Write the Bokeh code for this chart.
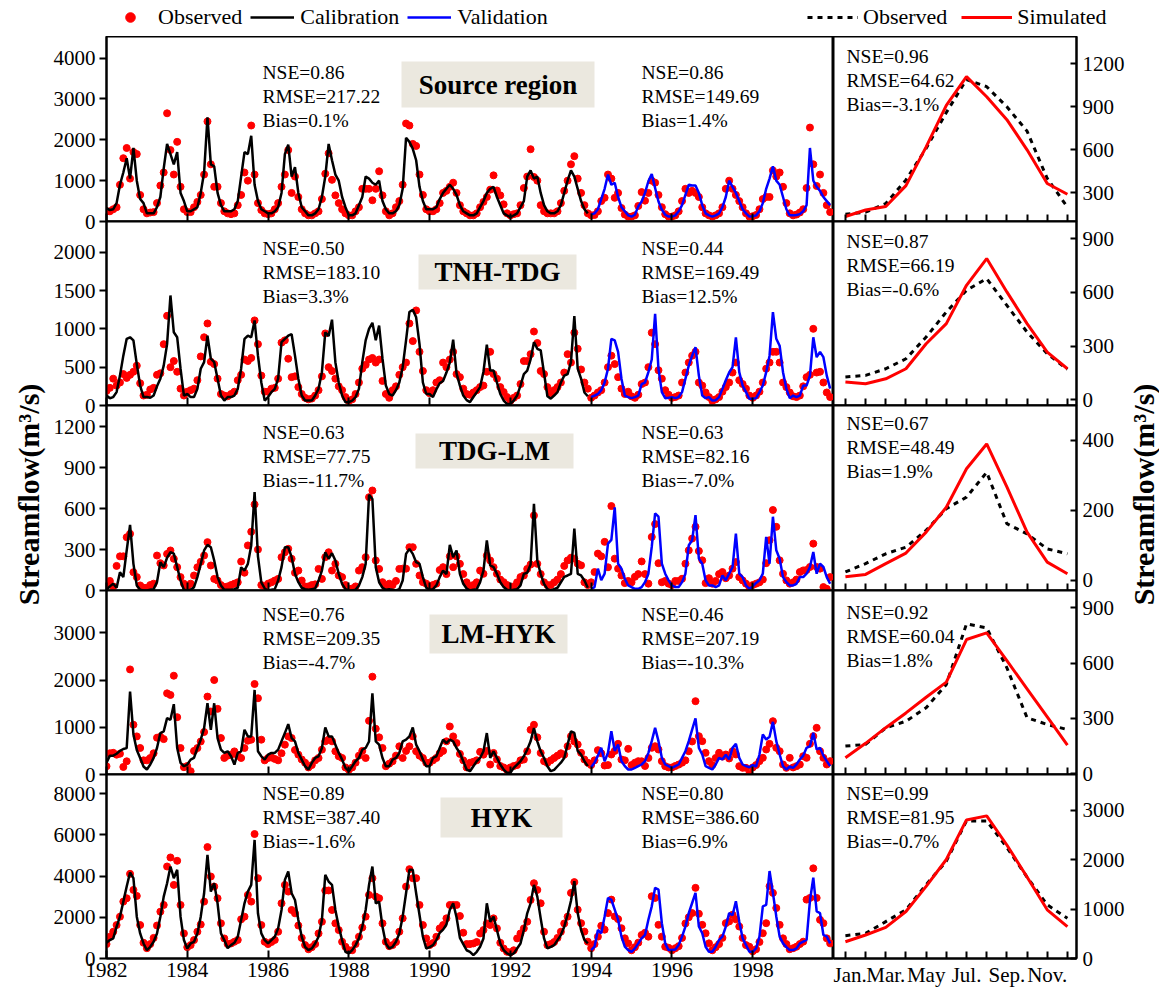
import numpy as np
from bokeh.plotting import figure
from bokeh.layouts import column, row
from bokeh.models import Range1d, FixedTicker, Label, BoxAnnotation, Legend, LegendItem
from bokeh.embed import file_html
from bokeh.resources import INLINE

FONT = "Liberation Serif"

# Monthly streamflow (m3/s), Jan 1982 - Dec 1999.
# First 144 months: calibration period, last 72 months: validation period.
src_sim = [
    330, 280, 300, 450, 900, 1200, 1550, 1050, 1800, 1000, 550, 450,   # 1982
    200, 200, 200, 350, 600, 1300, 1900, 1650, 1400, 1700, 700, 500,   # 1983
    250, 250, 300, 350, 700, 1200, 2550, 1400, 1350, 700, 400, 250,    # 1984
    250, 250, 300, 500, 1100, 1700, 1650, 2100, 900, 500, 300, 250,    # 1985
    200, 200, 250, 350, 700, 1650, 1880, 1100, 1330, 700, 350, 250,    # 1986
    150, 150, 200, 300, 600, 1100, 1900, 1500, 1150, 1000, 600, 350,   # 1987
    150, 150, 200, 400, 600, 1100, 1050, 950, 900, 1000, 500, 300,     # 1988
    200, 200, 250, 400, 800, 2050, 1950, 1780, 1500, 850, 500, 300,    # 1989
    300, 300, 350, 550, 700, 800, 900, 800, 650, 400, 250, 200,        # 1990
    150, 150, 200, 350, 500, 700, 800, 850, 600, 400, 200, 150,        # 1991
    110, 150, 200, 350, 500, 1100, 1250, 1050, 1100, 700, 400, 250,    # 1992
    200, 200, 250, 400, 700, 1000, 1250, 1100, 800, 500, 300, 200,     # 1993
    170, 200, 300, 550, 800, 1150, 900, 950, 600, 350, 250, 150,       # 1994
    120, 165, 370, 490, 700, 985, 1165, 820, 490, 290, 165, 120,       # 1995
    120, 150, 250, 400, 650, 900, 880, 880, 700, 400, 200, 150,        # 1996
    120, 150, 200, 350, 600, 1000, 850, 700, 500, 300, 200, 120,       # 1997
    130, 150, 250, 450, 800, 1050, 1350, 1000, 900, 600, 300, 150,     # 1998
    150, 160, 180, 250, 400, 1800, 1000, 850, 750, 600, 500, 400,      # 1999
]
src_obs = [
    250, 250, 300, 350, 900, 1550, 1800, 1050, 1700, 1650, 650, 300,
    200, 220, 230, 450, 880, 1200, 2650, 1750, 1150, 1950, 850, 300,
    230, 230, 350, 480, 650, 1150, 2450, 1400, 850, 850, 450, 250,
    200, 180, 200, 400, 650, 1200, 1000, 2350, 1150, 450, 280, 200,
    180, 200, 300, 450, 850, 1150, 1750, 700, 1100, 600, 300, 200,
    150, 150, 200, 250, 550, 1170, 1670, 1020, 640, 450, 300, 200,
    150, 150, 250, 350, 800, 800, 800, 520, 800, 1230, 640, 250,
    150, 200, 350, 500, 900, 2400, 2350, 1900, 1850, 1150, 650, 300,
    250, 250, 300, 450, 700, 750, 850, 950, 700, 400, 250, 200,
    150, 150, 200, 350, 480, 600, 780, 1130, 760, 640, 420, 200,
    150, 180, 200, 400, 820, 1100, 1770, 1090, 1000, 400, 250, 200,
    200, 200, 250, 450, 750, 1000, 1400, 1600, 1050, 700, 400, 200,
    150, 160, 250, 500, 580, 1150, 1050, 580, 700, 330, 170, 120,
    120, 150, 380, 720, 510, 700, 1000, 950, 650, 350, 180, 120,
    120, 150, 250, 500, 800, 700, 750, 700, 600, 350, 200, 150,
    120, 150, 200, 350, 800, 1000, 800, 650, 500, 350, 200, 120,
    130, 160, 300, 550, 600, 600, 1250, 1100, 1200, 850, 450, 200,
    150, 170, 220, 300, 820, 2300, 1400, 870, 1150, 700, 400, 230,
]

tnh_sim = [
    130, 95, 110, 175, 390, 650, 870, 890, 850, 540, 260, 110,
    110, 100, 130, 250, 350, 520, 800, 1435, 955, 890, 480, 130,
    150, 110, 110, 217, 480, 565, 910, 610, 565, 350, 130, 65,
    110, 110, 130, 217, 480, 870, 910, 890, 1110, 650, 300, 65,
    110, 175, 217, 350, 826, 870, 910, 930, 650, 350, 130, 65,
    65, 65, 130, 217, 435, 955, 905, 1120, 565, 300, 130, 43,
    45, 65, 110, 217, 565, 850, 1000, 1078, 850, 1043, 610, 260,
    150, 130, 200, 300, 500, 850, 1220, 1250, 1150, 800, 300, 150,
    150, 110, 210, 290, 320, 430, 560, 860, 420, 260, 130, 70,
    45, 110, 175, 240, 440, 795, 455, 455, 300, 150, 65, 20,
    20, 65, 130, 260, 410, 455, 600, 826, 740, 720, 420, 120,
    90, 130, 175, 300, 390, 410, 565, 1165, 480, 350, 170, 120,
    110, 130, 150, 200, 300, 480, 870, 850, 700, 350, 130, 110,
    96, 110, 130, 280, 300, 435, 600, 1196, 478, 174, 96, 100,
    109, 96, 110, 174, 348, 520, 650, 760, 390, 130, 96, 110,
    65, 70, 109, 217, 330, 430, 500, 890, 435, 260, 174, 87,
    87, 96, 174, 261, 435, 650, 1217, 870, 780, 435, 217, 96,
    130, 110, 130, 260, 260, 390, 890, 630, 700, 630, 390, 220,
]
tnh_obs = [
    190, 230, 350, 260, 300, 410, 360, 400, 440, 520, 290, 130,
    140, 210, 230, 400, 420, 800, 1170, 500, 580, 440, 220, 130,
    180, 200, 220, 330, 640, 890, 1070, 570, 540, 350, 150, 130,
    120, 150, 180, 330, 400, 600, 580, 620, 1110, 800, 390, 180,
    180, 220, 230, 350, 820, 850, 610, 370, 380, 240, 150, 100,
    80, 90, 130, 200, 380, 940, 500, 450, 350, 250, 200, 110,
    60, 80, 150, 300, 480, 530, 600, 620, 560, 600, 320, 150,
    100, 200, 250, 400, 500, 560, 1070, 840, 1240, 700, 450, 200,
    160, 200, 300, 330, 560, 500, 600, 700, 410, 370, 220, 150,
    140, 170, 200, 240, 260, 440, 700, 410, 350, 240, 175, 110,
    60, 100, 130, 280, 580, 580, 670, 965, 815, 450, 410, 240,
    160, 200, 240, 300, 430, 670, 560, 950, 740, 470, 300, 220,
    100, 130, 170, 200, 300, 500, 650, 540, 370, 220, 150, 180,
    120, 100, 140, 280, 300, 500, 950, 800, 460, 350, 200, 140,
    100, 110, 130, 300, 430, 560, 650, 700, 300, 260, 170, 110,
    60, 80, 110, 180, 240, 300, 430, 560, 330, 280, 220, 130,
    100, 130, 180, 300, 480, 560, 700, 700, 560, 300, 240, 170,
    120, 110, 130, 250, 370, 400, 1000, 430, 440, 300, 170, 110,
]

tdg_sim = [
    5, 30, 50, 20, 134, 98, 293, 480, 195, 37, 5, 0,
    0, 5, 10, 61, 207, 171, 240, 280, 270, 171, 73, 5,
    0, 5, 24, 98, 195, 293, 334, 317, 220, 98, 37, 5,
    5, 5, 10, 20, 170, 146, 195, 330, 720, 250, 60, 15,
    0, 5, 10, 73, 171, 317, 317, 244, 122, 61, 20, 10,
    5, 10, 15, 73, 146, 280, 232, 273, 220, 122, 49, 10,
    0, 0, 5, 37, 98, 195, 700, 670, 171, 60, 20, 5,
    10, 5, 0, 10, 73, 268, 305, 268, 207, 195, 98, 20,
    5, 10, 37, 98, 146, 120, 334, 244, 293, 122, 49, 15,
    0, 5, 10, 61, 146, 366, 183, 171, 122, 61, 25, 5,
    0, 5, 10, 37, 122, 130, 190, 634, 220, 122, 49, 10,
    0, 10, 20, 60, 100, 110, 122, 454, 122, 110, 73, 20,
    12, 25, 160, 75, 123, 343, 370, 608, 196, 160, 86, 37,
    25, 12, 12, 25, 61, 123, 319, 564, 540, 196, 123, 74,
    37, 25, 25, 61, 123, 331, 368, 552, 233, 196, 74, 37,
    37, 25, 37, 110, 75, 123, 170, 417, 123, 98, 37, 12,
    30, 55, 75, 123, 392, 196, 540, 294, 233, 98, 61, 37,
    37, 49, 98, 98, 123, 172, 282, 123, 196, 172, 98, 49,
]
tdg_obs = [
    40, 70, 30, 180, 250, 250, 390, 415, 134, 98, 37, 20,
    20, 40, 50, 256, 200, 183, 268, 293, 232, 171, 98, 50,
    30, 50, 110, 170, 210, 256, 354, 183, 85, 73, 40, 25,
    30, 40, 50, 60, 212, 130, 330, 430, 630, 300, 40, 30,
    50, 60, 73, 85, 244, 280, 305, 232, 130, 146, 73, 30,
    30, 40, 45, 158, 85, 244, 280, 146, 195, 110, 98, 40,
    10, 15, 30, 146, 171, 244, 683, 732, 220, 158, 61, 20,
    50, 40, 70, 158, 160, 160, 317, 317, 195, 110, 61, 50,
    30, 40, 50, 150, 171, 120, 250, 171, 250, 195, 120, 60,
    30, 40, 60, 146, 122, 256, 220, 171, 122, 80, 61, 40,
    20, 30, 60, 98, 110, 158, 190, 549, 195, 120, 60, 40,
    40, 60, 80, 120, 180, 220, 240, 233, 196, 184, 60, 40,
    60, 135, 270, 250, 356, 170, 618, 233, 160, 110, 54, 70,
    60, 100, 120, 213, 120, 50, 392, 486, 200, 60, 70, 50,
    40, 70, 70, 86, 196, 294, 380, 466, 289, 221, 54, 90,
    50, 70, 120, 135, 90, 110, 160, 208, 98, 74, 50, 25,
    40, 50, 60, 80, 200, 368, 589, 466, 221, 123, 74, 50,
    60, 80, 135, 147, 150, 172, 343, 172, 160, 25, 12, 98,
]

lm_sim = [
    250, 400, 400, 440, 500, 540, 560, 1756, 850, 520, 350, 170,
    105, 211, 351, 562, 878, 913, 1194, 1159, 1490, 562, 246, 175,
    211, 316, 351, 562, 738, 984, 1510, 948, 1510, 773, 527, 457,
    492, 386, 211, 457, 492, 948, 808, 808, 1792, 492, 386, 316,
    421, 457, 457, 527, 703, 878, 1068, 773, 703, 457, 316, 175,
    105, 246, 351, 386, 562, 998, 808, 808, 632, 457, 316, 140,
    70, 175, 281, 351, 527, 562, 700, 1721, 703, 632, 351, 175,
    175, 316, 351, 457, 703, 738, 808, 998, 632, 492, 316, 175,
    175, 351, 386, 562, 738, 667, 738, 703, 562, 457, 281, 105,
    70, 175, 281, 351, 492, 878, 351, 492, 351, 211, 105, 35,
    35, 140, 211, 281, 386, 527, 703, 984, 703, 492, 351, 175,
    70, 100, 175, 250, 351, 632, 913, 880, 500, 420, 280, 177,
    155, 250, 400, 565, 280, 460, 918, 500, 636, 283, 177, 106,
    106, 141, 177, 212, 283, 459, 707, 989, 707, 353, 212, 177,
    141, 177, 212, 353, 494, 707, 950, 1190, 565, 424, 177, 141,
    106, 212, 353, 320, 420, 320, 565, 650, 353, 212, 177, 155,
    200, 170, 424, 848, 742, 800, 1116, 707, 424, 177, 106, 170,
    141, 212, 318, 400, 565, 600, 883, 530, 565, 400, 283, 177,
]
lm_obs = [
    175, 450, 460, 420, 440, 160, 280, 2227, 1054, 808, 562, 300,
    300, 350, 450, 780, 800, 750, 1720, 1686, 2094, 1215, 562, 155,
    180, 70, 500, 560, 700, 900, 1651, 1335, 2002, 1391, 773, 351,
    400, 420, 490, 400, 350, 562, 717, 738, 1918, 1616, 738, 300,
    350, 360, 330, 300, 450, 632, 808, 773, 520, 420, 320, 250,
    150, 200, 300, 350, 527, 703, 738, 703, 492, 386, 351, 150,
    100, 150, 250, 400, 500, 350, 1138, 2073, 970, 787, 562, 175,
    230, 280, 400, 597, 350, 500, 597, 808, 492, 400, 350, 250,
    250, 300, 350, 450, 500, 703, 1019, 808, 667, 436, 300, 150,
    250, 270, 300, 480, 420, 500, 211, 457, 320, 180, 150, 100,
    150, 180, 200, 300, 316, 492, 948, 1054, 787, 457, 281, 246,
    300, 350, 400, 450, 420, 600, 812, 700, 636, 459, 318, 250,
    200, 300, 516, 450, 190, 200, 424, 500, 650, 318, 300, 544,
    200, 250, 283, 280, 180, 350, 565, 600, 530, 283, 177, 150,
    150, 180, 210, 250, 300, 494, 700, 1554, 812, 707, 459, 283,
    200, 350, 459, 380, 424, 340, 494, 424, 177, 141, 141, 14,
    150, 200, 283, 353, 530, 650, 1130, 565, 494, 212, 141, 353,
    150, 177, 212, 388, 353, 650, 812, 989, 494, 353, 212, 283,
]

hyk_sim = [
    763, 893, 974, 1542, 2029, 2759, 3489, 4171, 3895, 2029, 1217, 730,
    406, 568, 811, 1217, 2029, 3003, 3652, 4463, 3895, 4301, 2029, 893,
    487, 730, 811, 1217, 2029, 3165, 5031, 3246, 3652, 2678, 1217, 893,
    500, 650, 760, 1055, 1866, 2678, 3246, 3571, 5750, 2191, 1217, 893,
    730, 893, 1055, 1461, 2353, 3814, 4220, 3165, 2840, 1866, 1055, 568,
    406, 487, 730, 1055, 1866, 4058, 3733, 3571, 2353, 1542, 893, 325,
    243, 406, 649, 974, 1542, 2353, 3571, 4463, 2678, 2759, 1542, 730,
    487, 568, 811, 1217, 2029, 3165, 4301, 4301, 3165, 2110, 1055, 487,
    550, 650, 893, 1250, 1400, 1650, 2353, 2678, 2000, 1000, 700, 400,
    325, 162, 325, 568, 974, 2678, 1785, 2029, 1380, 730, 406, 243,
    162, 243, 487, 730, 1380, 2191, 2678, 3571, 3003, 1948, 974, 487,
    560, 650, 893, 1136, 1542, 2122, 2800, 3754, 2203, 1387, 898, 734,
    408, 570, 1387, 1224, 2040, 2938, 2850, 2366, 1877, 1061, 571, 408,
    326, 490, 734, 979, 1142, 1877, 2530, 3427, 3346, 1714, 734, 408,
    408, 440, 653, 1061, 1550, 2203, 2693, 3182, 1550, 1224, 571, 326,
    326, 571, 898, 1061, 1550, 2203, 2100, 2774, 1800, 979, 653, 326,
    326, 490, 1061, 2530, 2600, 4243, 3182, 2040, 1061, 734, 550, 408,
    408, 490, 734, 816, 898, 2800, 3917, 2285, 2203, 1142, 1061, 734,
]
hyk_obs = [
    698, 1055, 1298, 1623, 2029, 2759, 2921, 4106, 3327, 3035, 1623, 763,
    500, 700, 1000, 1600, 2272, 2597, 4463, 4901, 3571, 4739, 2597, 1217,
    550, 650, 893, 1298, 1650, 2759, 5404, 3976, 3489, 2921, 1704, 974,
    700, 730, 811, 900, 1900, 2029, 3084, 2759, 6038, 3895, 1623, 811,
    700, 800, 900, 1300, 2678, 3571, 3246, 2353, 2191, 1600, 1000, 650,
    450, 550, 700, 1217, 1785, 3300, 3300, 2353, 1704, 1380, 811, 568,
    400, 400, 700, 1055, 1500, 2029, 3084, 3895, 3003, 2921, 1704, 811,
    600, 650, 800, 1298, 1948, 3489, 4333, 3895, 3895, 2597, 1623, 974,
    650, 750, 1050, 1461, 1623, 1948, 2597, 2597, 2597, 2061, 1250, 700,
    700, 730, 800, 1217, 1380, 1700, 1623, 1948, 1461, 763, 487, 325,
    300, 400, 974, 1217, 1461, 1785, 2840, 3652, 3327, 2678, 1298, 649,
    700, 800, 1000, 1300, 1700, 2029, 3182, 3705, 2366, 1714, 1306, 816,
    500, 700, 1061, 1583, 1400, 2203, 2856, 2040, 1910, 1469, 979, 734,
    400, 550, 767, 1142, 1250, 1061, 3019, 2938, 1632, 1061, 571, 520,
    400, 500, 600, 1000, 1700, 2000, 2203, 3427, 2170, 1632, 1224, 734,
    400, 550, 700, 1000, 1714, 1800, 2122, 1900, 1550, 1000, 650, 570,
    350, 450, 800, 1224, 1714, 3509, 3182, 2448, 1632, 979, 700, 450,
    500, 570, 700, 816, 2856, 2938, 4374, 2938, 1877, 1714, 979, 734,
]

# Mean monthly hydrographs (Jan..Dec)
months = list(range(1, 13))
month_labels = ["Jan.", "", "Mar.", "", "May", "", "Jul.", "", "Sep.", "", "Nov.", ""]
src_mon_obs = [150, 165, 225, 390, 610, 860, 1090, 1040, 900, 730, 400, 200]
src_mon_sim = [135, 180, 205, 350, 620, 910, 1110, 970, 810, 600, 365, 290]
tnh_mon_obs = [127, 136, 173, 229, 350, 490, 611, 676, 527, 378, 257, 170]
tnh_mon_sim = [99, 89, 117, 173, 313, 425, 639, 788, 602, 425, 266, 173]
tdg_mon_obs = [24, 48, 76, 95, 143, 205, 238, 309, 162, 133, 90, 76]
tdg_mon_sim = [10, 17, 48, 78, 138, 209, 319, 390, 267, 138, 52, 19]
lm_mon_obs = [150, 159, 249, 285, 358, 484, 813, 791, 575, 304, 267, 240]
lm_mon_sim = [87, 165, 250, 330, 415, 497, 728, 764, 613, 461, 309, 155]
hyk_mon_obs = [462, 510, 748, 986, 1496, 1972, 2788, 2788, 2250, 1650, 1088, 816]
hyk_mon_sim = [340, 476, 632, 952, 1462, 2006, 2808, 2890, 2300, 1650, 986, 646]

year_ticks = list(range(1982, 2000, 2))

N_CAL = 144
t = 1982 + np.arange(len(src_sim)) / 12.0

panels = [
    dict(name="Source region", sim=src_sim, obs=src_obs, msim=src_mon_sim, mobs=src_mon_obs,
         cal=["NSE=0.86", "RMSE=217.22", "Bias=0.1%"], val=["NSE=0.86", "RMSE=149.69", "Bias=1.4%"],
         mon=["NSE=0.96", "RMSE=64.62", "Bias=-3.1%"],
         ylim=(0, 4530), yt=[0, 1000, 2000, 3000, 4000], rlim=(100, 1390), rt=[300, 600, 900, 1200],
         box=(401, 594, 61, 107)),
    dict(name="TNH-TDG", sim=tnh_sim, obs=tnh_obs, msim=tnh_mon_sim, mobs=tnh_mon_obs,
         cal=["NSE=0.50", "RMSE=183.10", "Bias=3.3%"], val=["NSE=0.44", "RMSE=169.49", "Bias=12.5%"],
         mon=["NSE=0.87", "RMSE=66.19", "Bias=-0.6%"],
         ylim=(0, 2400), yt=[0, 500, 1000, 1500, 2000], rlim=(-32, 995), rt=[0, 300, 600, 900],
         box=(418, 576, 254, 289)),
    dict(name="TDG-LM", sim=tdg_sim, obs=tdg_obs, msim=tdg_mon_sim, mobs=tdg_mon_obs,
         cal=["NSE=0.63", "RMSE=77.75", "Bias=-11.7%"], val=["NSE=0.63", "RMSE=82.16", "Bias=-7.0%"],
         mon=["NSE=0.67", "RMSE=48.49", "Bias=1.9%"],
         ylim=(0, 1354), yt=[0, 300, 600, 900, 1200], rlim=(-29, 500), rt=[0, 200, 400],
         box=(415, 573, 433, 468)),
    dict(name="LM-HYK", sim=lm_sim, obs=lm_obs, msim=lm_mon_sim, mobs=lm_mon_obs,
         cal=["NSE=0.76", "RMSE=209.35", "Bias=-4.7%"], val=["NSE=0.46", "RMSE=207.19", "Bias=-10.3%"],
         mon=["NSE=0.92", "RMSE=60.04", "Bias=1.8%"],
         ylim=(0, 3900), yt=[0, 1000, 2000, 3000], rlim=(-4, 994), rt=[0, 300, 600, 900],
         box=(429, 567, 614, 653)),
    dict(name="HYK", sim=hyk_sim, obs=hyk_obs, msim=hyk_mon_sim, mobs=hyk_mon_obs,
         cal=["NSE=0.89", "RMSE=387.40", "Bias=-1.6%"], val=["NSE=0.80", "RMSE=386.60", "Bias=6.9%"],
         mon=["NSE=0.99", "RMSE=81.95", "Bias=-0.7%"],
         ylim=(0, 8925), yt=[0, 2000, 4000, 6000, 8000], rlim=(0, 3728), rt=[0, 1000, 2000, 3000],
         box=(440, 562, 797, 837)),
]

# page geometry (pixels)
PAGE_W, PAGE_H = 1159, 988
LEG_H = 36
YL_W = 50                 # left margin of the panel block
YL_STRIP = 100            # strip under the left margin: axis title and shared-edge zeros
YR_X = 1127               # start of the strip holding the right axis title
LX0, LW = 106, 727
RX0, RW = 833, 243
ROW_TOP = [36, 221, 405, 590, 774]
ROW_H = [185, 184, 185, 184, 184]
BOTTOM = 30
OVERLAP = 18              # neighbouring rows share this strip
XR_L = (1982, 2000)
XR_R = (0.41, 12.45)
STAT_Y = [72, 248, 432, 614, 793]
MON_Y = [56, 241, 423, 612, 793]
LINE_GAP = 24
TICK_FS = "21px"
STAT_FS = "19.5px"
YTICK_OUT, YTICK_STANDOFF = 7, 4
YLABEL = "Streamflow(m\u00b3/s)"
YLABEL_CY = 494


def lx(px):
    return XR_L[0] + (px - LX0) / LW * (XR_L[1] - XR_L[0])


def rx(px):
    return XR_R[0] + (px - RX0) / RW * (XR_R[1] - XR_R[0])


def yv(i, py, lim):
    lo, hi = lim
    return hi - (py - ROW_TOP[i]) / ROW_H[i] * (hi - lo)


def clear_fill(model):
    for prop in ("background_fill_alpha", "border_fill_alpha"):
        if prop in model.properties():
            setattr(model, prop, 0)


def base_style(p):
    p.xgrid.visible = False
    p.ygrid.visible = False
    p.outline_line_color = "black"
    p.outline_line_width = 2
    p.background_fill_color = "white"
    p.border_fill_color = None
    p.border_fill_alpha = 0
    for ax in p.axis:
        clear_fill(ax)
        ax.axis_line_width = 2
        ax.axis_line_color = "black"
        ax.major_tick_line_width = 2
        ax.major_tick_line_color = "black"
        ax.minor_tick_line_color = None
        ax.major_label_text_font = FONT
        ax.major_label_text_font_size = TICK_FS
        ax.major_label_text_color = "black"


def add_text(p, x, y, text, **kw):
    opts = dict(text_font=FONT, text_font_size=STAT_FS, text_color="black",
                text_align="left", text_baseline="middle")
    opts.update(kw)
    p.add_layout(Label(x=x, y=y, text=text, **opts))


def add_stats(p, i, x, y_px, lines, lim):
    for k, s in enumerate(lines):
        add_text(p, x, yv(i, y_px + k * LINE_GAP, lim), s)


def borders(i):
    last = i == len(panels) - 1
    return dict(min_border_top=0 if i == 0 else OVERLAP,
                min_border_bottom=BOTTOM if last else OVERLAP)


def hide_x_labels(ax, ticks):
    ax.major_label_overrides = {v: "" for v in ticks}
    ax.major_label_text_font_size = "0px"
    ax.major_label_standoff = 0


def left_fig(i, c):
    last = i == len(panels) - 1
    p = figure(frame_width=LW, frame_height=ROW_H[i],
               x_range=Range1d(*XR_L), y_range=Range1d(*c["ylim"]),
               min_border_left=LX0 - YL_W, min_border_right=0, **borders(i),
               output_backend="svg", toolbar_location=None)
    base_style(p)
    p.xaxis.ticker = FixedTicker(ticks=year_ticks)
    p.xaxis.major_tick_in = 8
    p.xaxis.major_tick_out = 0
    if last:
        p.xaxis.major_label_standoff = 4
    else:
        hide_x_labels(p.xaxis[0], year_ticks)
        # this panel's zero sits on the shared edge; it is written in the left strip
        p.yaxis.major_label_overrides = {0: ""}
    p.yaxis.ticker = FixedTicker(ticks=c["yt"])
    p.yaxis.major_tick_in = 0
    p.yaxis.major_tick_out = YTICK_OUT
    p.yaxis.major_label_standoff = YTICK_STANDOFF

    p.scatter(t, c["obs"], marker="circle", size=7, color="red")
    p.line(t[:N_CAL], c["sim"][:N_CAL], color="black", line_width=2.5)
    p.line(t[N_CAL:], c["sim"][N_CAL:], color="blue", line_width=2.5)

    add_stats(p, i, lx(262), STAT_Y[i], c["cal"], c["ylim"])
    add_stats(p, i, lx(641), STAT_Y[i], c["val"], c["ylim"])

    bx0, bx1, by0, by1 = c["box"]
    p.add_layout(BoxAnnotation(left=lx(bx0), right=lx(bx1),
                               top=yv(i, by0, c["ylim"]), bottom=yv(i, by1, c["ylim"]),
                               fill_color="#ebe8df", fill_alpha=1.0, line_color=None))
    add_text(p, lx((bx0 + bx1) / 2), yv(i, (by0 + by1) / 2, c["ylim"]), c["name"],
             text_align="center", text_font_style="bold", text_font_size="27px")
    return p


def right_fig(i, c):
    last = i == len(panels) - 1
    p = figure(frame_width=RW, frame_height=ROW_H[i],
               x_range=Range1d(*XR_R), y_range=Range1d(*c["rlim"]),
               y_axis_location="right",
               min_border_left=0, min_border_right=YR_X - (RX0 + RW), **borders(i),
               output_backend="svg", toolbar_location=None)
    base_style(p)
    p.xaxis.ticker = FixedTicker(ticks=months)
    p.xaxis.major_tick_in = 7
    p.xaxis.major_tick_out = 0
    if last:
        p.xaxis.major_label_overrides = {m: lab for m, lab in zip(months, month_labels)}
        p.xaxis.major_label_standoff = 4
    else:
        hide_x_labels(p.xaxis[0], months)
    p.yaxis.ticker = FixedTicker(ticks=c["rt"])
    p.yaxis.major_tick_in = 6
    p.yaxis.major_tick_out = 0
    p.yaxis.major_label_standoff = 6

    p.line(months, c["mobs"], color="black", line_width=3, line_dash="5 5")
    p.line(months, c["msim"], color="red", line_width=3)

    add_stats(p, i, rx(846), MON_Y[i], c["mon"], c["rlim"])
    return p


lefts = [left_fig(i, c) for i, c in enumerate(panels)]
rights = [right_fig(i, c) for i, c in enumerate(panels)]


def strip(width, cx, zero_edges=()):
    s = figure(width=width, height=PAGE_H, x_range=Range1d(0, width), y_range=Range1d(0, PAGE_H),
               x_axis_location=None, y_axis_location=None, min_border=0,
               output_backend="svg", toolbar_location=None)
    s.outline_line_color = None
    s.xgrid.visible = False
    s.ygrid.visible = False
    s.add_layout(Label(x=cx, y=PAGE_H - YLABEL_CY, text=YLABEL, angle=float(np.pi / 2),
                       text_font=FONT, text_font_style="bold", text_font_size="30px",
                       text_color="black", text_align="center", text_baseline="middle"))
    for edge in zero_edges:
        s.add_layout(Label(x=LX0 - YTICK_OUT - YTICK_STANDOFF, y=PAGE_H - edge, text="0",
                           text_font=FONT, text_font_size=TICK_FS, text_color="black",
                           text_align="right", text_baseline="middle"))
    return s


# legend strip across the top; its renderers hold the first panel's series but
# lie outside the strip's ranges, so only the legend entries show
inner_w = YR_X - YL_W
lg = figure(width=inner_w, height=LEG_H, x_range=Range1d(0, 1), y_range=Range1d(0, 1),
            x_axis_location=None, y_axis_location=None, min_border=0,
            output_backend="svg", toolbar_location=None)
lg.outline_line_color = None
lg.border_fill_color = None
lg.background_fill_color = None
lg.xgrid.visible = False
lg.ygrid.visible = False
r_obs = lg.scatter(t, src_obs, marker="circle", size=7, color="red")
r_cal = lg.line(t[:N_CAL], src_sim[:N_CAL], color="black", line_width=2.5)
r_val = lg.line(t[N_CAL:], src_sim[N_CAL:], color="blue", line_width=2.5)
r_mobs = lg.line(months, src_mon_obs, color="black", line_width=3, line_dash="5 5")
r_msim = lg.line(months, src_mon_sim, color="red", line_width=3)

LEG_KW = dict(orientation="horizontal", padding=0, margin=0, border_line_color=None,
              background_fill_alpha=0, label_text_font=FONT, label_text_font_size="22px",
              label_text_color="black", glyph_height=24, label_height=24)
leg_ts = Legend(items=[LegendItem(label="Observed", renderers=[r_obs]),
                       LegendItem(label="Calibration", renderers=[r_cal]),
                       LegendItem(label="Validation", renderers=[r_val])],
                location=(108 - YL_W, 6), spacing=8, label_standoff=6, glyph_width=44, **LEG_KW)
leg_mon = Legend(items=[LegendItem(label="Observed", renderers=[r_mobs]),
                        LegendItem(label="Simulated", renderers=[r_msim])],
                 location=(807 - YL_W, 6), spacing=14, label_standoff=5, glyph_width=51, **LEG_KW)
lg.add_layout(leg_ts)
lg.add_layout(leg_mon)

rows = []
for i, (l, r) in enumerate(zip(lefts, rights)):
    rows.append(row(l, r, spacing=0, margin=(0, 0, 0, 0) if i == 0 else (-2 * OVERLAP, 0, 0, 0)))

panel_col = column([lg] + rows, spacing=0, margin=(0, 0, 0, YL_W - YL_STRIP))
left_strip = strip(YL_STRIP, 28, zero_edges=ROW_TOP[1:])
right_strip = strip(PAGE_W - YR_X, 1143 - YR_X)
layout = row(left_strip, panel_col, right_strip, spacing=0)

open("out.html", "w").write(file_html(layout, INLINE))
